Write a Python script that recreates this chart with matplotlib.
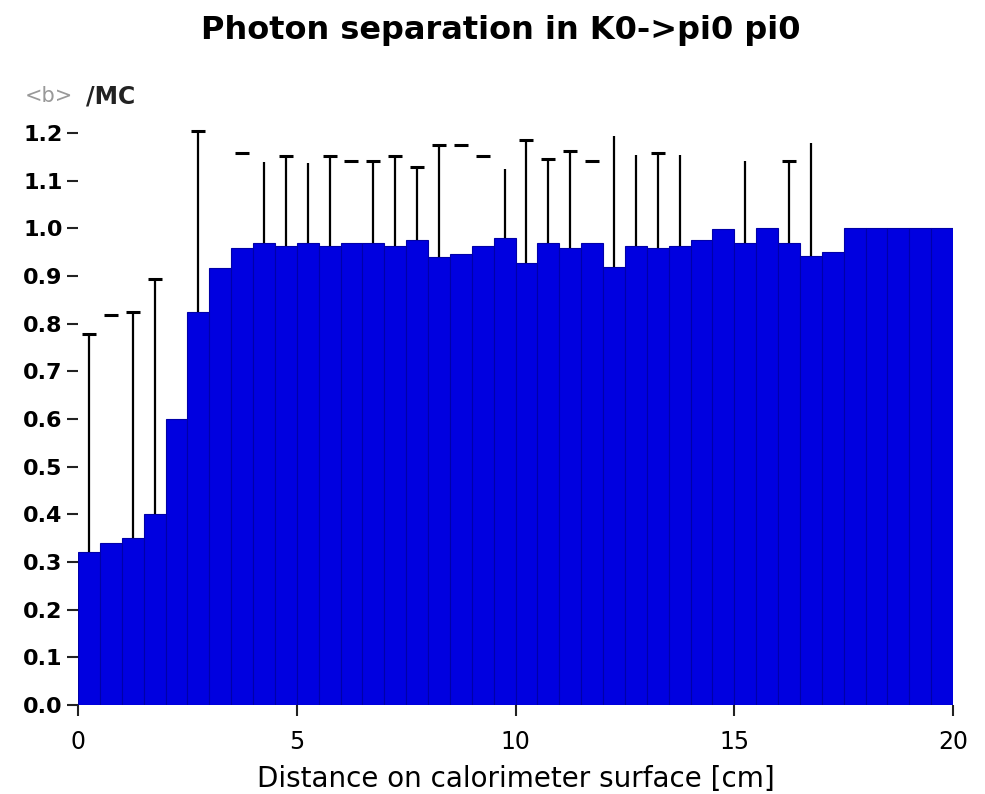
"""
Photon separation efficiency vs. distance on the calorimeter surface.
"""
import matplotlib
matplotlib.use("Agg")
import matplotlib.pyplot as plt
import numpy as np

# bin edges: 0.5 cm bins from 0 to 20 cm
bin_edges = np.arange(0.0, 20.01, 0.5)

# <b>/MC per bin
ratio = [
    0.320, 0.340, 0.350, 0.400, 0.600, 0.825, 0.917, 0.959, 0.968, 0.963,
    0.968, 0.963, 0.968, 0.968, 0.963, 0.975, 0.940, 0.945, 0.963, 0.980,
    0.928, 0.968, 0.958, 0.968, 0.919, 0.963, 0.958, 0.963, 0.975, 0.998,
    0.970, 1.000, 0.970, 0.942, 0.951, 1.000, 1.000, 1.000, 1.000, 1.000,
]

# upper error per bin (0 = none drawn)
err_up = [
    0.458, 0.478, 0.474, 0.493, 0.000, 0.378, 0.000, 0.198, 0.170, 0.189,
    0.168, 0.189, 0.172, 0.172, 0.189, 0.153, 0.235, 0.230, 0.189, 0.144,
    0.257, 0.177, 0.204, 0.172, 0.275, 0.191, 0.199, 0.191, 0.000, 0.000,
    0.170, 0.000, 0.170, 0.236, 0.000, 0.000, 0.000, 0.000, 0.000, 0.000,
]

# which parts of each error bar survive in the original rendering
has_stem = [
    1, 0, 1, 1, 0, 1, 0, 0, 1, 1,
    1, 1, 0, 1, 1, 1, 1, 0, 0, 1,
    1, 1, 1, 0, 1, 1, 1, 1, 0, 0,
    1, 0, 1, 1, 0, 0, 0, 0, 0, 0,
]
has_cap = [
    1, 1, 1, 1, 0, 1, 0, 1, 0, 1,
    0, 1, 1, 1, 1, 1, 1, 1, 1, 0,
    1, 1, 1, 1, 0, 0, 1, 0, 0, 0,
    0, 0, 1, 0, 0, 0, 0, 0, 0, 0,
]

y_ticks = [0.0, 0.1, 0.2, 0.3, 0.4, 0.5, 0.6, 0.7, 0.8, 0.9, 1.0, 1.1, 1.2]
x_ticks = [0, 5, 10, 15, 20]

plt.rcParams["font.family"] = ["DejaVu Sans"]

fig = plt.figure(figsize=(9.85, 7.94), dpi=100)
ax = fig.add_axes([78 / 985, 89 / 794, 875 / 985, 596 / 794])

ratio = np.asarray(ratio)
err_up = np.asarray(err_up)
centers = 0.5 * (bin_edges[:-1] + bin_edges[1:])
widths = np.diff(bin_edges)

ax.bar(centers, ratio, width=widths, color="#0000e0", edgecolor="#0000a8",
       linewidth=0.8, zorder=2)

stem = np.asarray(has_stem, dtype=bool)
cap = np.asarray(has_cap, dtype=bool)
ax.vlines(centers[stem], ratio[stem], ratio[stem] + err_up[stem],
          color="black", linewidth=1.6, zorder=3)
ax.plot(centers[cap], (ratio + err_up)[cap], linestyle="none", marker="_",
        markersize=10, markeredgewidth=2.2, color="black", zorder=3)

ax.set_xlim(0, 20)
ax.set_ylim(0, 1.25)
ax.set_xticks(x_ticks)
ax.set_xticklabels([str(t) for t in x_ticks], fontsize=17)
ax.set_yticks(y_ticks)
ax.set_yticklabels([f"{t:.1f}" for t in y_ticks], fontsize=16, fontweight="bold")
for side in ("top", "right", "left", "bottom"):
    ax.spines[side].set_visible(False)
ax.tick_params(axis="both", direction="out", length=8, width=1.5, color="#222222")
ax.tick_params(axis="y", pad=3)
ax.tick_params(axis="x", pad=10)

ax.set_xlabel("Distance on calorimeter surface [cm]", fontsize=20, labelpad=8)
fig.text(0.508, 0.962, "Photon separation in K0->pi0 pi0", ha="center",
         va="center", fontsize=23, fontweight="bold")
fig.text(25 / 985, 1 - 96 / 794, "<b>", ha="left", va="center",
         fontsize=15, color="#999999")
fig.text(86 / 985, 1 - 96 / 794, "/MC", ha="left", va="center",
         fontsize=17, fontweight="bold", color="#222222")

fig.savefig("out.png", dpi=100)
